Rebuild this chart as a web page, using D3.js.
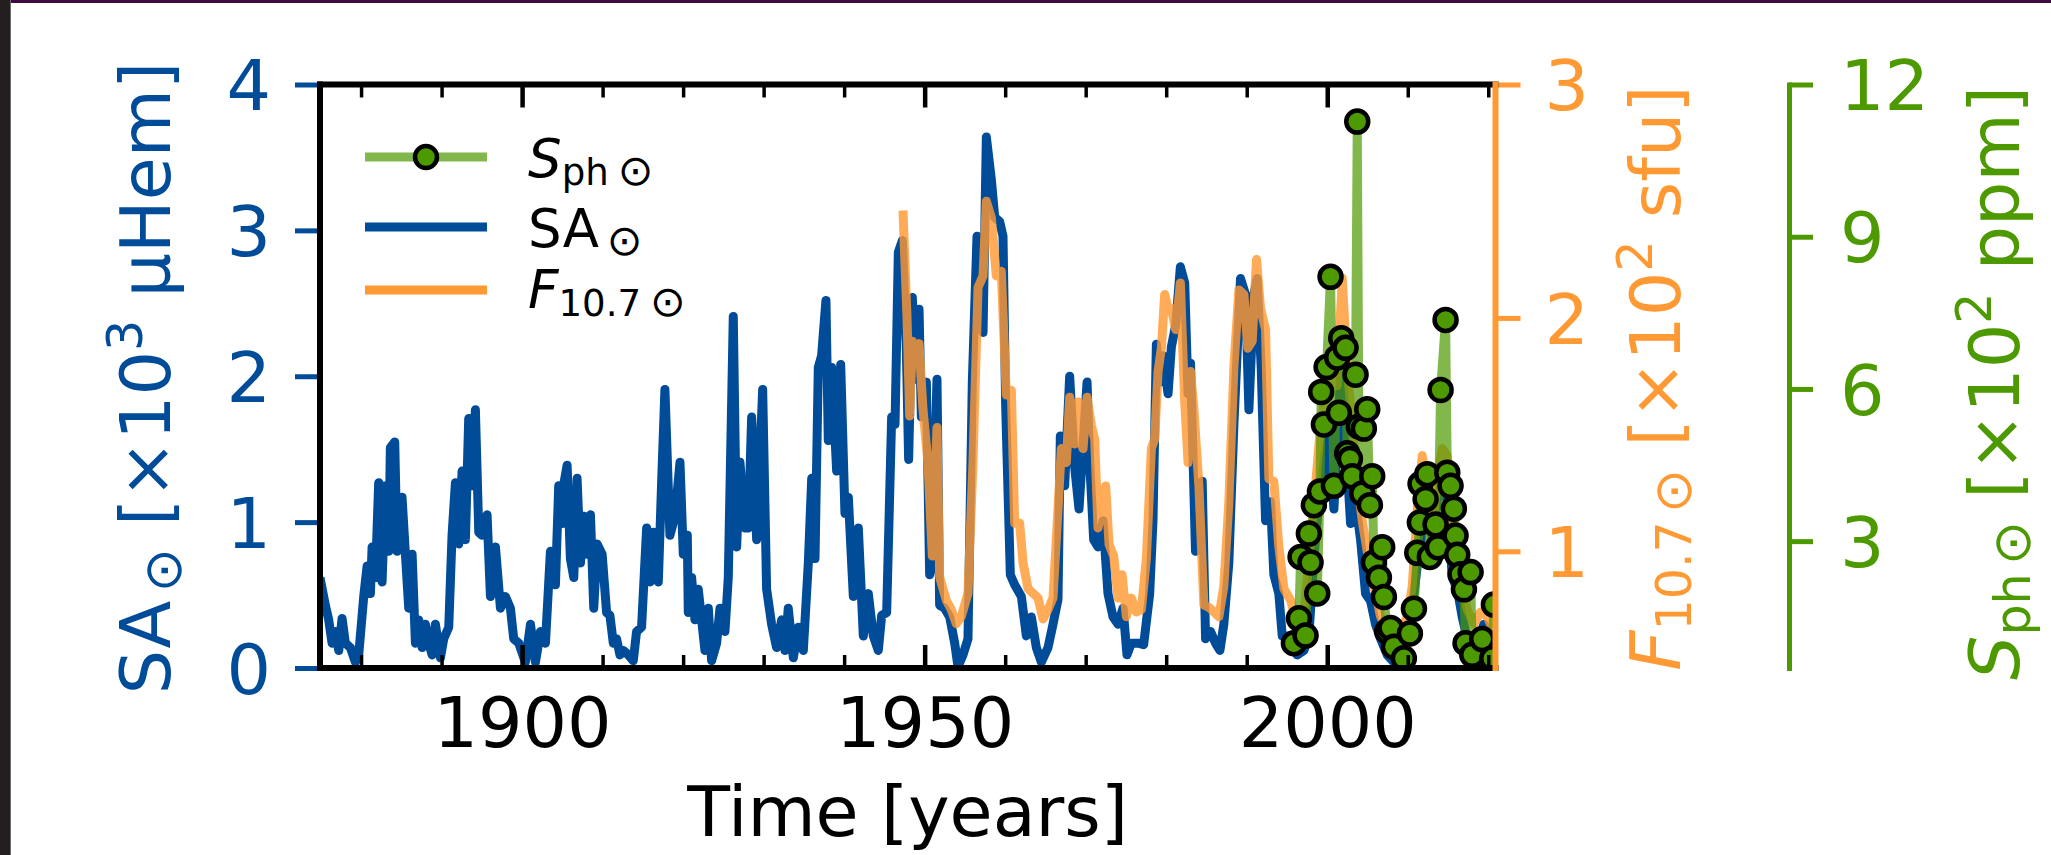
<!DOCTYPE html>
<html>
<head>
<meta charset="utf-8">
<script src="https://cdn.jsdelivr.net/npm/d3@7"></script>
<style>
body { margin: 0; background: #fff; }
svg { display: block; }
text { font-family: "DejaVu Sans"; }
</style>
</head>
<body>
<svg id="chart" width="2051" height="855"></svg>
<script>
// sunspot area, x10^3 uHem
var saYears = [1874.9,1875.57,1875.98,1876.40,1876.81,1877.23,1877.64,1878.05,1878.67,1879.30,1879.71,1880.33,1880.75,1881.16,1881.37,1881.78,1882.19,1882.61,1883.02,1883.44,1883.64,1884.18,1884.47,1885.09,1885.51,1885.92,1886.34,1886.75,1887.16,1887.58,1887.99,1888.41,1888.82,1889.23,1889.86,1890.27,1890.89,1891.30,1891.72,1892.13,1892.55,1892.96,1893.37,1893.79,1894.20,1894.62,1895.03,1895.65,1896.07,1896.69,1897.31,1897.93,1898.55,1898.96,1899.59,1900.41,1901.04,1901.66,1902.28,1902.90,1903.52,1904.14,1904.55,1904.97,1905.18,1905.59,1906.00,1906.42,1906.83,1907.25,1907.66,1908.07,1908.49,1908.90,1909.32,1909.94,1910.50,1910.91,1911.33,1911.74,1912.15,1912.57,1913.19,1913.81,1914.22,1914.84,1915.47,1915.88,1916.29,1916.92,1917.33,1917.74,1918.36,1918.99,1919.61,1920.02,1920.52,1920.64,1921.06,1921.47,1921.88,1922.30,1922.71,1923.13,1923.54,1924.16,1924.58,1925.20,1925.61,1926.23,1926.65,1927.06,1927.68,1928.10,1928.51,1929.13,1929.88,1930.37,1930.99,1931.61,1932.24,1932.65,1933.06,1933.69,1934.31,1934.93,1935.55,1935.97,1936.38,1936.79,1937.20,1937.74,1938.03,1938.45,1939.07,1939.57,1940.10,1940.52,1941.14,1941.76,1942.38,1943.00,1943.62,1944.24,1944.66,1945.28,1945.90,1946.32,1946.73,1947.23,1947.72,1948.01,1948.47,1948.88,1949.30,1949.59,1950.21,1950.62,1950.95,1951.53,1951.86,1952.48,1953.11,1953.73,1954.14,1954.76,1955.38,1955.92,1956.50,1957.25,1957.66,1958.28,1958.70,1959.32,1959.73,1960.06,1960.64,1961.18,1962.01,1962.63,1963.25,1963.87,1964.49,1965.32,1965.94,1966.56,1966.85,1967.39,1968.01,1968.63,1969.17,1969.54,1970.17,1970.50,1970.99,1971.53,1972.15,1972.77,1973.40,1974.02,1974.64,1975.13,1975.67,1976.50,1977.20,1977.95,1978.36,1978.78,1979.19,1979.61,1980.23,1980.64,1981.18,1981.76,1982.30,1982.71,1983.02,1983.64,1984.47,1984.89,1985.51,1986.13,1986.67,1987.16,1987.78,1988.41,1989.23,1989.86,1990.27,1990.89,1991.30,1991.80,1992.34,1992.96,1993.37,1993.99,1994.41,1995.03,1995.65,1996.27,1997.10,1997.72,1998.34,1998.96,1999.59,2000.21,2000.83,2001.45,2001.86,2002.48,2002.90,2003.52,2004.14,2004.76,2005.38,2006.00,2006.63,2007.45,2008.28,2009.11,2009.94,2010.56,2011.18,2011.80,2012.42,2013.04,2013.66,2014.29,2014.91,2015.53,2016.15,2016.77,2017.39,2018.22,2018.84,2019.46,2020.08,2020.70];
var saValues = [0.62,0.43,0.33,0.17,0.25,0.12,0.34,0.17,0.14,0.04,0.09,0.49,0.70,0.51,0.83,0.62,1.27,0.59,1.25,0.80,1.51,1.55,0.80,1.17,0.78,0.41,0.78,0.17,0.33,0.14,0.30,0.17,0.09,0.30,0.07,0.20,0.28,0.91,1.27,0.85,1.35,0.88,1.71,1.25,1.77,0.93,0.91,1.05,0.49,0.83,0.41,0.49,0.41,0.20,0.17,0.04,0.30,0.04,0.25,0.17,0.80,0.57,1.25,0.99,1.26,1.39,0.75,0.62,1.30,0.72,1.04,0.78,1.05,0.41,0.85,0.78,0.38,0.36,0.17,0.20,0.09,0.12,0.09,0.05,0.25,0.28,0.96,0.59,0.93,0.59,1.27,1.91,0.91,1.04,1.41,0.78,0.91,0.38,0.62,0.33,0.54,0.33,0.12,0.41,0.05,0.17,0.41,0.25,0.62,2.41,0.83,1.41,0.96,0.96,1.72,0.88,1.91,0.54,0.30,0.14,0.33,0.12,0.41,0.07,0.28,0.12,0.72,1.30,0.75,2.06,2.14,2.52,1.56,2.06,1.35,2.08,1.06,1.17,0.49,0.96,0.22,0.51,0.22,0.12,0.36,0.38,1.72,1.67,2.85,2.93,2.20,1.43,2.54,1.98,2.46,1.72,1.96,0.64,0.72,1.98,0.43,0.41,0.35,0.17,0.01,0.09,0.20,1.96,2.96,2.30,3.64,3.35,3.09,3.06,2.96,1.80,0.64,0.57,0.49,0.22,0.35,0.14,0.04,0.14,0.30,0.47,1.59,1.25,2.00,1.38,1.09,1.41,1.96,1.41,0.88,0.83,1.01,0.51,0.35,0.30,0.41,0.09,0.17,0.17,0.16,0.51,1.01,2.22,1.96,2.14,1.88,2.20,2.35,2.75,2.64,1.88,2.09,0.80,1.28,0.20,0.25,0.17,0.12,0.30,0.72,1.67,2.67,2.56,1.77,2.56,2.67,2.06,1.01,1.14,0.64,0.51,0.22,0.22,0.14,0.09,0.12,0.22,0.75,1.14,1.41,1.62,1.09,1.80,2.14,1.38,0.99,1.14,0.88,0.51,0.46,0.30,0.20,0.09,0.04,0.07,0.20,0.41,0.70,0.93,1.28,0.88,1.14,1.28,1.14,0.62,0.54,0.35,0.20,0.14,0.20,0.30,0.17,0.07];

// F10.7 radio flux, x10^2 sfu
var f107Years = [1947.31,1947.81,1948.14,1948.47,1948.88,1949.30,1949.79,1950.41,1950.95,1951.53,1951.86,1952.69,1953.31,1953.93,1954.55,1955.38,1956.00,1956.63,1957.25,1957.66,1958.28,1958.90,1959.52,1960.14,1960.77,1961.18,1961.80,1962.22,1962.84,1963.46,1964.08,1964.70,1965.32,1965.94,1966.56,1966.98,1967.60,1968.01,1968.63,1969.05,1969.67,1970.17,1970.70,1971.12,1971.53,1971.95,1972.48,1972.90,1973.48,1974.02,1974.51,1975.05,1975.67,1976.29,1976.92,1977.54,1978.16,1978.57,1978.99,1979.40,1979.81,1980.23,1980.64,1981.18,1981.76,1982.30,1982.71,1983.02,1983.44,1984.06,1984.68,1985.30,1985.92,1986.54,1987.16,1987.78,1988.41,1989.03,1989.65,1990.14,1990.68,1991.22,1991.72,1992.34,1992.75,1993.37,1993.99,1994.62,1995.45,1996.27,1997.10,1997.93,1998.55,1999.17,1999.79,2000.41,2001.24,2001.86,2002.48,2003.11,2003.73,2004.35,2004.97,2005.80,2006.63,2007.45,2008.28,2009.11,2009.94,2010.56,2011.18,2011.80,2012.42,2013.04,2013.66,2014.29,2014.91,2015.53,2016.15,2016.77,2017.39,2018.22,2019.05,2019.88,2020.50];
var f107Values = [2.46,2.00,1.58,1.90,1.81,1.89,1.61,1.38,0.98,1.53,0.89,0.79,0.75,0.69,0.72,0.82,1.38,2.13,2.18,2.50,2.43,2.18,2.20,1.67,1.69,1.12,1.12,0.95,0.84,0.82,0.80,0.71,0.75,0.80,1.18,1.44,1.38,1.66,1.46,1.64,1.44,1.66,1.54,1.48,1.10,1.17,1.28,1.03,0.98,0.80,0.90,0.72,0.80,0.74,0.75,0.97,1.44,1.48,1.77,1.87,2.10,2.04,2.04,1.95,2.15,1.64,1.38,1.77,1.61,1.28,0.77,0.76,0.74,0.72,0.85,1.21,1.79,2.12,2.10,1.87,1.90,2.25,2.04,1.95,1.31,1.30,1.02,0.84,0.79,0.69,0.72,1.05,1.28,1.54,1.67,1.84,1.71,2.17,1.79,1.54,1.30,1.13,1.00,0.85,0.72,0.66,0.62,0.66,0.72,0.85,1.18,1.41,1.28,1.08,1.31,1.44,1.41,1.13,0.95,0.84,0.75,0.69,0.74,0.72,0.67];

// photometric sunspot index, x10^2 ppm
var sphYears = [1995.86,1996.48,1996.69,1997.31,1997.72,1997.93,1998.34,1998.76,1999.10,1999.25,1999.59,1999.92,2000.41,2000.83,2001.24,2001.45,2001.74,2002.28,2002.48,2002.82,2003.11,2003.52,2003.73,2003.93,2004.35,2004.55,2004.97,2005.30,2005.59,2005.80,2006.42,2006.83,2007.04,2007.45,2007.87,2008.28,2009.52,2010.27,2010.77,2011.18,2011.51,2011.59,2012.22,2012.42,2012.75,2013.46,2013.75,2014.08,2014.70,2014.91,2015.32,2015.73,2015.94,2016.15,2016.56,2016.98,2017.18,2017.81,2018.01,2019.25,2020.50,2020.70];
var sphValues = [0.99,1.48,2.69,1.14,3.15,2.58,3.71,1.97,3.98,5.94,5.30,6.43,8.21,4.09,6.62,5.53,7.00,6.81,4.73,4.62,4.28,6.28,11.27,5.26,3.94,5.22,5.60,3.71,4.28,2.58,2.28,2.88,1.90,1.22,1.29,0.92,0.69,1.18,1.67,2.77,3.37,4.13,3.83,4.32,2.69,3.33,2.88,5.98,7.36,4.35,4.09,3.64,3.11,2.73,2.35,2.05,0.99,2.39,0.76,1.07,0.69,1.75];

var xMajor = [1900, 1950, 2000];
var xMinor = [1880, 1890, 1910, 1920, 1930, 1940, 1960, 1970, 1980, 1990, 2010, 2020];
var saTicks = [0, 1, 2, 3, 4];
var f107Ticks = [1, 2, 3];
var sphTicks = [3, 6, 9, 12];

var blue = "#004c99", orange = "#ff9933", green = "#4d9900";
var plotL = 320, plotR = 1495.5, plotT = 84.5, plotB = 668;
var fs = 70;
var lw = 9;
var intFmt = d3.format("d");

var svg = d3.select("#chart");

// window frame bits
svg.append("rect").attr("x", 0).attr("y", 0).attr("width", 2051).attr("height", 855).attr("fill", "#fff");
svg.append("rect").attr("x", 0).attr("y", 0).attr("width", 10).attr("height", 855).attr("fill", "#231f20");
svg.append("rect").attr("x", 10).attr("y", 0).attr("width", 1).attr("height", 855).attr("fill", "#6e6e6e");
svg.append("rect").attr("x", 11).attr("y", 0).attr("width", 2040).attr("height", 3).attr("fill", "#3c0b40");

var x = d3.scaleLinear().domain([1874.9, 2020.9]).range([plotL, plotR]);
var ySA = d3.scaleLinear().domain([0, 4]).range([plotB, plotT]);
var yF = d3.scaleLinear().domain([0.5, 3]).range([plotB, plotT]);
var yS = d3.scaleLinear().domain([0.5, 12]).range([plotB, plotT]);

svg.append("clipPath").attr("id", "plotclip")
  .append("rect").attr("x", plotL).attr("y", plotT)
  .attr("width", plotR - plotL).attr("height", plotB - plotT);

var plot = svg.append("g").attr("clip-path", "url(#plotclip)");

var saData = d3.zip(saYears, saValues);
var fData = d3.zip(f107Years, f107Values);
var sData = d3.zip(sphYears, sphValues);

plot.append("path").datum(saData)
  .attr("d", d3.line().x(d => x(d[0])).y(d => ySA(d[1])))
  .attr("fill", "none").attr("stroke", blue).attr("stroke-width", lw)
  .attr("stroke-linejoin", "round");

plot.append("path").datum(fData)
  .attr("d", d3.line().x(d => x(d[0])).y(d => yF(d[1])))
  .attr("fill", "none").attr("stroke", orange).attr("stroke-opacity", 0.82)
  .attr("stroke-width", lw).attr("stroke-linejoin", "round");

plot.append("path").datum(sData)
  .attr("d", d3.line().x(d => x(d[0])).y(d => yS(d[1])))
  .attr("fill", "none").attr("stroke", green).attr("stroke-opacity", 0.7)
  .attr("stroke-width", lw).attr("stroke-linejoin", "round");

plot.selectAll("circle.sph").data(sData).enter().append("circle")
  .attr("class", "sph")
  .attr("cx", d => x(d[0])).attr("cy", d => yS(d[1])).attr("r", 11)
  .attr("fill", green).attr("stroke", "#000").attr("stroke-width", 4.5);

// x ticks, pointing inward on bottom and top
var xb = svg.append("g").attr("transform", "translate(0," + plotB + ")")
  .call(d3.axisBottom(x).tickValues(xMajor).tickSize(-23).tickPadding(29).tickFormat(intFmt));
xb.select(".domain").remove();
xb.selectAll("line").attr("stroke", "#000").attr("stroke-width", 4.5);
xb.selectAll("text").attr("font-size", fs).attr("font-family", "DejaVu Sans").attr("fill", "#000");

var xbm = svg.append("g").attr("transform", "translate(0," + plotB + ")")
  .call(d3.axisBottom(x).tickValues(xMinor).tickSize(-13).tickFormat(""));
xbm.select(".domain").remove();
xbm.selectAll("line").attr("stroke", "#000").attr("stroke-width", 3.5);

var xt = svg.append("g").attr("transform", "translate(0," + plotT + ")")
  .call(d3.axisTop(x).tickValues(xMajor).tickSize(-23).tickFormat(""));
xt.select(".domain").remove();
xt.selectAll("line").attr("stroke", "#000").attr("stroke-width", 4.5);

var xtm = svg.append("g").attr("transform", "translate(0," + plotT + ")")
  .call(d3.axisTop(x).tickValues(xMinor).tickSize(-13).tickFormat(""));
xtm.select(".domain").remove();
xtm.selectAll("line").attr("stroke", "#000").attr("stroke-width", 3.5);

// left axis (sunspot area)
var yl = svg.append("g").attr("transform", "translate(" + plotL + ",0)")
  .call(d3.axisLeft(ySA).tickValues(saTicks).tickSize(25).tickPadding(24).tickFormat(intFmt));
yl.select(".domain").remove();
yl.selectAll("line").attr("stroke", blue).attr("stroke-width", 5);
yl.selectAll("text").attr("font-size", fs).attr("font-family", "DejaVu Sans").attr("fill", blue).attr("dy", "0.36em");

// right axis (F10.7)
var yr = svg.append("g").attr("transform", "translate(" + plotR + ",0)")
  .call(d3.axisRight(yF).tickValues(f107Ticks).tickSize(25).tickPadding(24).tickFormat(intFmt));
yr.select(".domain").remove();
yr.selectAll("line").attr("stroke", orange).attr("stroke-width", 5);
yr.selectAll("text").attr("font-size", fs).attr("font-family", "DejaVu Sans").attr("fill", orange).attr("dy", "0.36em");

// offset axis (S_ph)
var ys = svg.append("g").attr("transform", "translate(1789,0)")
  .call(d3.axisRight(yS).tickValues(sphTicks).tickSizeInner(24).tickSizeOuter(0).tickPadding(27).tickFormat(intFmt));
ys.select(".domain").attr("stroke", green).attr("stroke-width", 5).attr("stroke-linecap", "square");
ys.selectAll("line").attr("stroke", green).attr("stroke-width", 5);
ys.selectAll("text").attr("font-size", fs).attr("font-family", "DejaVu Sans").attr("fill", green).attr("dy", "0.36em");

// spines
svg.append("line").attr("x1", plotL - 3).attr("x2", plotR + 3).attr("y1", plotT).attr("y2", plotT).attr("stroke", "#000").attr("stroke-width", 6);
svg.append("line").attr("x1", plotL - 3).attr("x2", plotR + 3).attr("y1", plotB).attr("y2", plotB).attr("stroke", "#000").attr("stroke-width", 6);
svg.append("line").attr("x1", plotL).attr("x2", plotL).attr("y1", plotT - 3).attr("y2", plotB + 3).attr("stroke", "#000").attr("stroke-width", 6);
svg.append("line").attr("x1", plotR).attr("x2", plotR).attr("y1", plotT - 3).attr("y2", plotB + 3).attr("stroke", orange).attr("stroke-width", 6);

// text with sub/superscripts: [string, scale, shift(em), italic, dx(em)]
function rich(t, parts, size) {
  var prev = 0;
  parts.forEach(function(p) {
    var s = t.append("tspan").text(p[0])
      .attr("font-size", size * p[1])
      .attr("dy", (p[2] - prev) * size);
    if (p[3]) s.attr("font-style", "italic");
    if (p[4]) s.attr("dx", p[4] * size);
    prev = p[2];
  });
}

var lab = svg.append("text").attr("transform", "translate(170,378) rotate(-90)")
  .attr("text-anchor", "middle").attr("fill", blue);
rich(lab, [["SA", 1, 0], ["\u2299", 0.75, 0.15, false, 0.12], [" [\u00d710", 1, 0], ["3", 0.7, -0.4], [" \u00b5Hem]", 1, 0]], fs);

var labF = svg.append("text").attr("transform", "translate(1680,378) rotate(-90)")
  .attr("text-anchor", "middle").attr("fill", orange);
rich(labF, [["F", 1, 0, true], ["10.7", 0.7, 0.15], ["\u2299", 0.75, 0.15, false, 0.12], [" [\u00d710", 1, 0], ["2", 0.7, -0.4], [" sfu]", 1, 0]], fs);

var labS = svg.append("text").attr("transform", "translate(2019,383) rotate(-90)")
  .attr("text-anchor", "middle").attr("fill", green);
rich(labS, [["S", 1, 0, true], ["ph", 0.7, 0.15], ["\u2299", 0.75, 0.15, false, 0.12], [" [\u00d710", 1, 0], ["2", 0.7, -0.4], [" ppm]", 1, 0]], fs);

svg.append("text").attr("x", (plotL + plotR) / 2).attr("y", 836)
  .attr("text-anchor", "middle").attr("font-size", fs).attr("fill", "#000")
  .text("Time [years]");

// legend
var lf = 53;
var leg = svg.append("g");
leg.append("line").attr("x1", 365).attr("x2", 487).attr("y1", 157).attr("y2", 157)
  .attr("stroke", green).attr("stroke-opacity", 0.7).attr("stroke-width", lw);
leg.append("circle").attr("cx", 426).attr("cy", 157).attr("r", 11)
  .attr("fill", green).attr("stroke", "#000").attr("stroke-width", 4.5);
leg.append("line").attr("x1", 365).attr("x2", 487).attr("y1", 227).attr("y2", 227)
  .attr("stroke", blue).attr("stroke-width", lw);
leg.append("line").attr("x1", 365).attr("x2", 487).attr("y1", 290).attr("y2", 290)
  .attr("stroke", orange).attr("stroke-width", lw);

rich(leg.append("text").attr("x", 528).attr("y", 177).attr("fill", "#000"),
  [["S", 1, 0, true], ["ph", 0.7, 0.15], ["\u2299", 0.8, 0.15, false, 0.17]], lf);
rich(leg.append("text").attr("x", 528).attr("y", 247).attr("fill", "#000"),
  [["SA", 1, 0], ["\u2299", 0.8, 0.15, false, 0.15]], lf);
rich(leg.append("text").attr("x", 528).attr("y", 308).attr("fill", "#000"),
  [["F", 1, 0, true], ["10.7", 0.7, 0.15], ["\u2299", 0.8, 0.15, false, 0.17]], lf);
</script>
</body>
</html>
